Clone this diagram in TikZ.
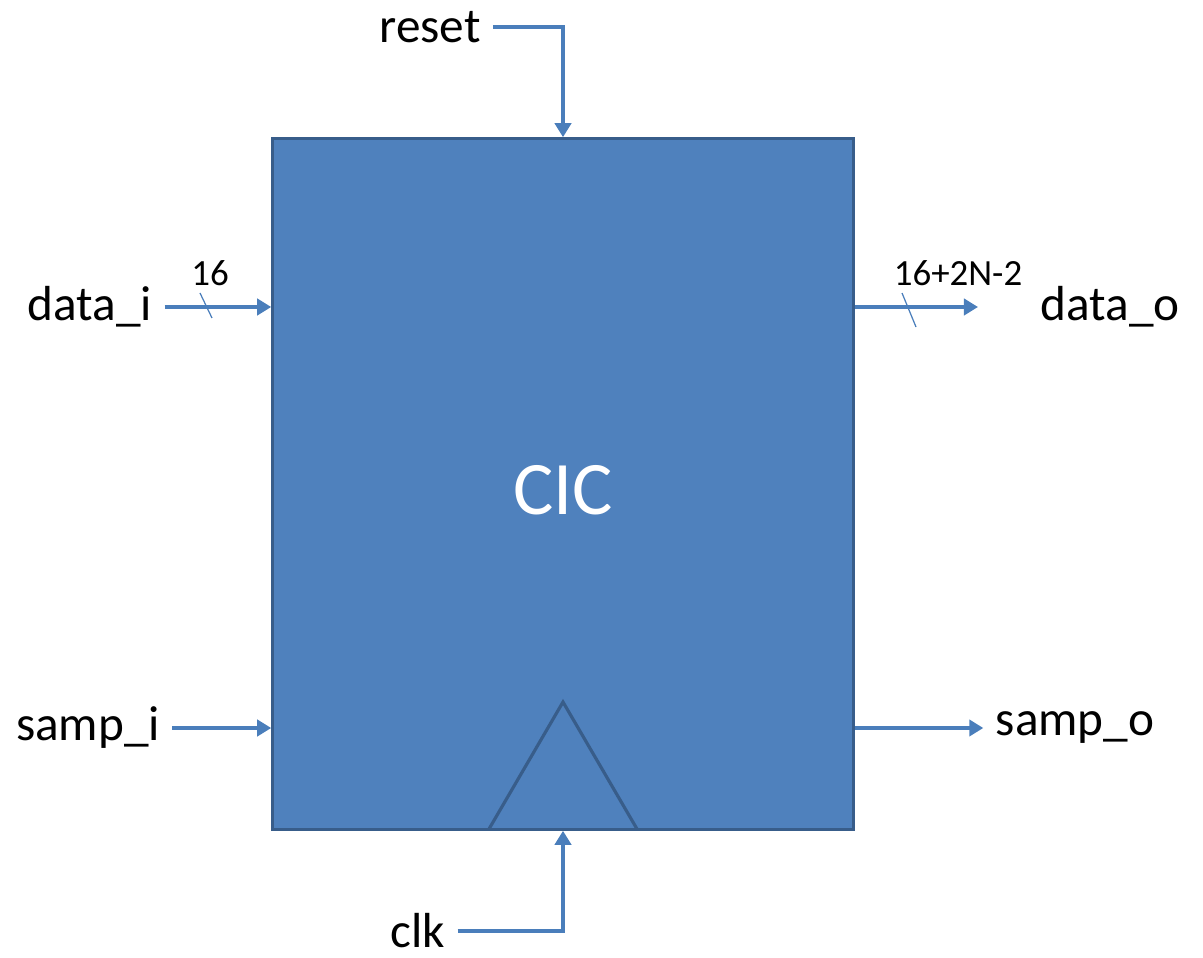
\documentclass[tikz,border=0pt]{standalone}
\usepackage{fontspec}
\setmainfont{Carlito}
\usetikzlibrary{arrows.meta}
\definecolor{boxfill}{HTML}{4F81BD}
\definecolor{boxline}{HTML}{385D8A}
\definecolor{wire}{HTML}{4A7EBB}
\tikzset{
  block/.style={draw=boxline, line width=0.9pt, fill=boxfill},
  port/.style={font=\fontsize{14}{17}\selectfont, inner ysep=0.5pt},
  width/.style={font=\fontsize{10.5}{12}\selectfont},
  sig/.style={draw=wire, line width=1.1pt, -{Triangle[length=4pt,width=4.6pt]}},
  tick/.style={draw=wire, line width=0.35pt}
}
\begin{document}
\begin{tikzpicture}[x=0.01cm, y=-0.01cm]
  \useasboundingbox (0,0) rectangle (1203,958);
  \node[block, minimum width=5.8cm, minimum height=6.9cm, inner sep=0pt] (cic) at (563,484) {};
  \node[text=white, font=\fontsize{21.5}{25}\selectfont] (name) at (563,490) {CIC};
  \draw[draw=boxline, line width=0.9pt] (489,829) -- (563,702) -- (637,829);
  \draw
    (430,27) node[port] (reset){reset}
    (418,931) node[port] (clk){clk}
    (90,307) node[port] (datai){data\_i}
    (88,728) node[port] (sampi){samp\_i}
    (1110,307) node[port] (datao){data\_o}
    (1075,728) node[port] (sampo){samp\_o}
    (210,273) node[width] (wi){16}
    (958,273) node[width] (wo){16+2N-2};
  \coordinate (dout) at (978,307);
  \begin{scope}[sig]
    \draw (reset.east) -| (cic.north);
    \draw (clk.east) -| (cic.south);
    \draw (datai.east) -- (datai.east -| cic.west);
    \draw (sampi.east) -- (sampi.east -| cic.west);
    \draw (dout -| cic.east) -- (dout);
    \draw (sampo.west -| cic.east) -- (sampo.west);
  \end{scope}
  \draw[tick] (200,293) -- (212,318);
  \draw[tick] (902,293) -- (916,327);
\end{tikzpicture}
\end{document}
